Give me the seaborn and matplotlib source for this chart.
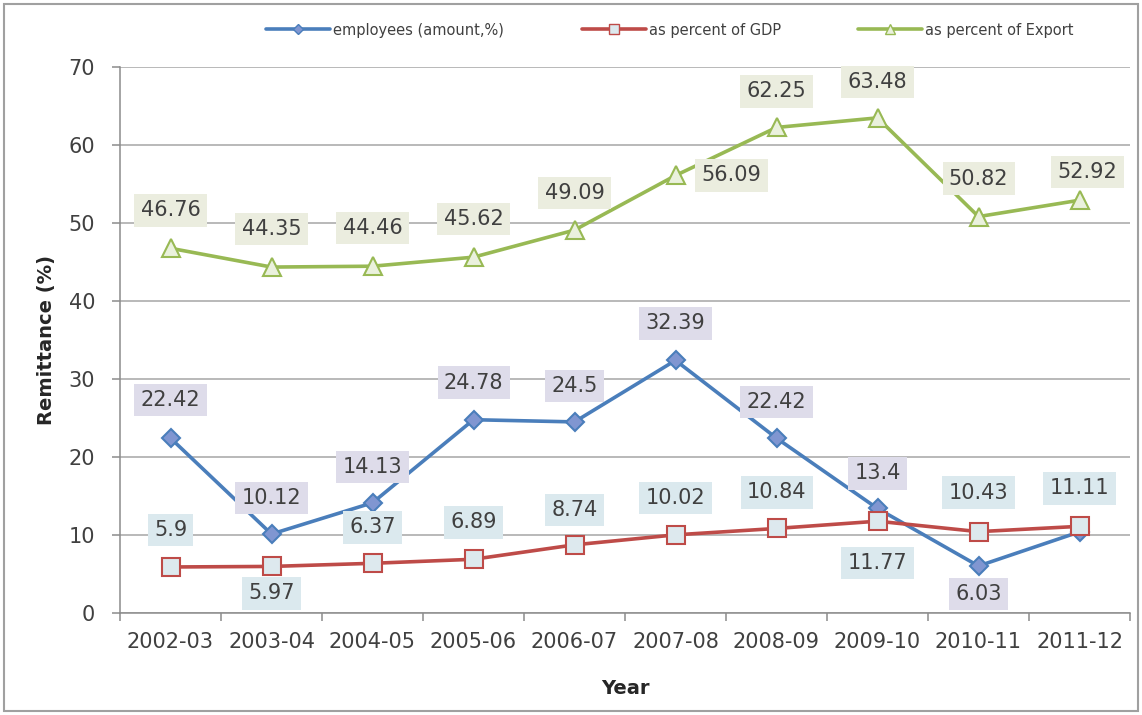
import matplotlib
matplotlib.use("Agg")
import matplotlib.pyplot as plt
from matplotlib.lines import Line2D
from matplotlib.patches import Rectangle
import seaborn as sns
import pandas as pd

# ---- data -------------------------------------------------------------
years = ["2002-03", "2003-04", "2004-05", "2005-06", "2006-07",
         "2007-08", "2008-09", "2009-10", "2010-11", "2011-12"]
employees = [22.42, 10.12, 14.13, 24.78, 24.5, 32.39, 22.42, 13.4, 6.03, 10.4]
pct_gdp = [5.9, 5.97, 6.37, 6.89, 8.74, 10.02, 10.84, 11.77, 10.43, 11.11]
pct_export = [46.76, 44.35, 44.46, 45.62, 49.09, 56.09, 62.25, 63.48, 50.82, 52.92]
series_names = ["employees (amount,%)", "as percent of GDP", "as percent of Export"]
# which points carry a value label
employees_labelled = [True] * 9 + [False]

# ---- label placement (pixel offsets from the point: dx, dy up) ---------
emp_off = [(0, 38), (0, 36), (0, 36), (0, 37), (0, 36), (0, 37), (0, 36), (0, 35), (0, -28), (0, 0)]
gdp_off = [(0, 37), (0, -27), (0, 36), (0, 37), (0, 35), (0, 37), (0, 36), (0, -42), (0, 39), (0, 38)]
exp_off = [(0, 38), (0, 38), (0, 38), (0, 38), (0, 37), (56, 0), (0, 36), (0, 36), (0, 38), (8, 28)]

sns.set_theme(style="white")
plt.rcParams["font.family"] = ["DejaVu Sans"]

W, H = 1142, 715
fig = plt.figure(figsize=(W / 100, H / 100), dpi=100)
ax = fig.add_axes([120 / W, 1 - 613 / H, 1010 / W, 546 / H])

df = pd.DataFrame({
    "Year": years * 3,
    "value": employees + pct_gdp + pct_export,
    "series": [series_names[0]] * 10 + [series_names[1]] * 10 + [series_names[2]] * 10,
})

styles = {
    series_names[0]: dict(color="#4a7ebb", marker="D", markersize=9.5,
                          markerfacecolor="#8096d1", markeredgecolor="#4a7ebb"),
    series_names[1]: dict(color="#be4b48", marker="s", markersize=13,
                          markerfacecolor="#dde9ee", markeredgecolor="#be4b48"),
    series_names[2]: dict(color="#98b954", marker="^", markersize=13,
                          markerfacecolor="#eaf1dd", markeredgecolor="#98b954"),
}
zorders = {series_names[0]: 3, series_names[1]: 4, series_names[2]: 3}

for name in series_names:
    sub = df[df["series"] == name]
    sns.lineplot(data=sub, x="Year", y="value", ax=ax, sort=False,
                 linewidth=2.6, markeredgewidth=1.5, zorder=zorders[name],
                 legend=False, **styles[name])

# ---- value labels -----------------------------------------------------
text_color = "#404040"
box_colors = {series_names[0]: "#dedcea", series_names[1]: "#dbe9ee", series_names[2]: "#ebeddf"}
px2pt = 0.72


def fmt(v):
    return f"{v:g}"


def add_labels(values, offsets, name, mask=None):
    for i, (v, (dx, dy)) in enumerate(zip(values, offsets)):
        if mask is not None and not mask[i]:
            continue
        ax.annotate(fmt(v), xy=(i, v), xytext=(dx * px2pt, dy * px2pt),
                    textcoords="offset points", ha="center", va="center",
                    fontsize=15, color=text_color, zorder=6,
                    bbox=dict(boxstyle="square,pad=0.3", fc=box_colors[name], ec="none"))


add_labels(pct_export, exp_off, series_names[2])
add_labels(employees, emp_off, series_names[0], employees_labelled)
add_labels(pct_gdp, gdp_off, series_names[1])

# ---- axes styling -----------------------------------------------------
ax.set_xlim(-0.5, len(years) - 0.5)
ax.set_ylim(0, 70)
ax.set_yticks(range(0, 71, 10))
ax.set_xticks(range(len(years)))
ax.set_xticklabels(years)
ax.set_xticks([i - 0.5 for i in range(len(years) + 1)], minor=True)
ax.grid(axis="y", color="#a6a6a6", linewidth=1.1, zorder=0)
ax.set_axisbelow(True)
for s in ["top", "right"]:
    ax.spines[s].set_visible(False)
for s in ["left", "bottom"]:
    ax.spines[s].set_color("#8c8c8c")
    ax.spines[s].set_linewidth(1.1)
ax.tick_params(axis="x", which="major", length=0, pad=14, labelsize=15, labelcolor=text_color)
ax.tick_params(axis="x", which="minor", length=5.5, width=1.1, color="#8c8c8c", direction="out")
ax.tick_params(axis="y", which="major", length=6, width=1.1, color="#8c8c8c",
               direction="out", pad=12, labelsize=15, labelcolor=text_color)
ax.tick_params(axis="y", left=True)
ax.tick_params(axis="x", bottom=True, which="minor")

ax.set_xlabel("Year", fontsize=14, fontweight="bold", color="#262626", labelpad=19)
ax.set_ylabel("Remittance (%)", fontsize=14, fontweight="bold", color="#262626", labelpad=9)

# ---- legend -----------------------------------------------------------
handles = [Line2D([0], [0], color=styles[n]["color"], linewidth=2.6,
                  marker=styles[n]["marker"], markersize=styles[n]["markersize"] * 0.55,
                  markerfacecolor=styles[n]["markerfacecolor"],
                  markeredgecolor=styles[n]["markeredgecolor"]) for n in series_names]
fig.legend(handles, series_names, loc="center", bbox_to_anchor=(670 / W, 1 - 30 / H),
           ncol=3, frameon=False, fontsize=10.5, handlelength=4.4, handletextpad=0.2,
           columnspacing=5.3, labelcolor=text_color)

# ---- outer frame ------------------------------------------------------
fig.patches.append(Rectangle((4 / W, 4 / H), 1 - 8 / W, 1 - 8 / H, transform=fig.transFigure,
                             fill=False, edgecolor="#a0a0a0", linewidth=1.5))

fig.savefig("out.png", dpi=100)
